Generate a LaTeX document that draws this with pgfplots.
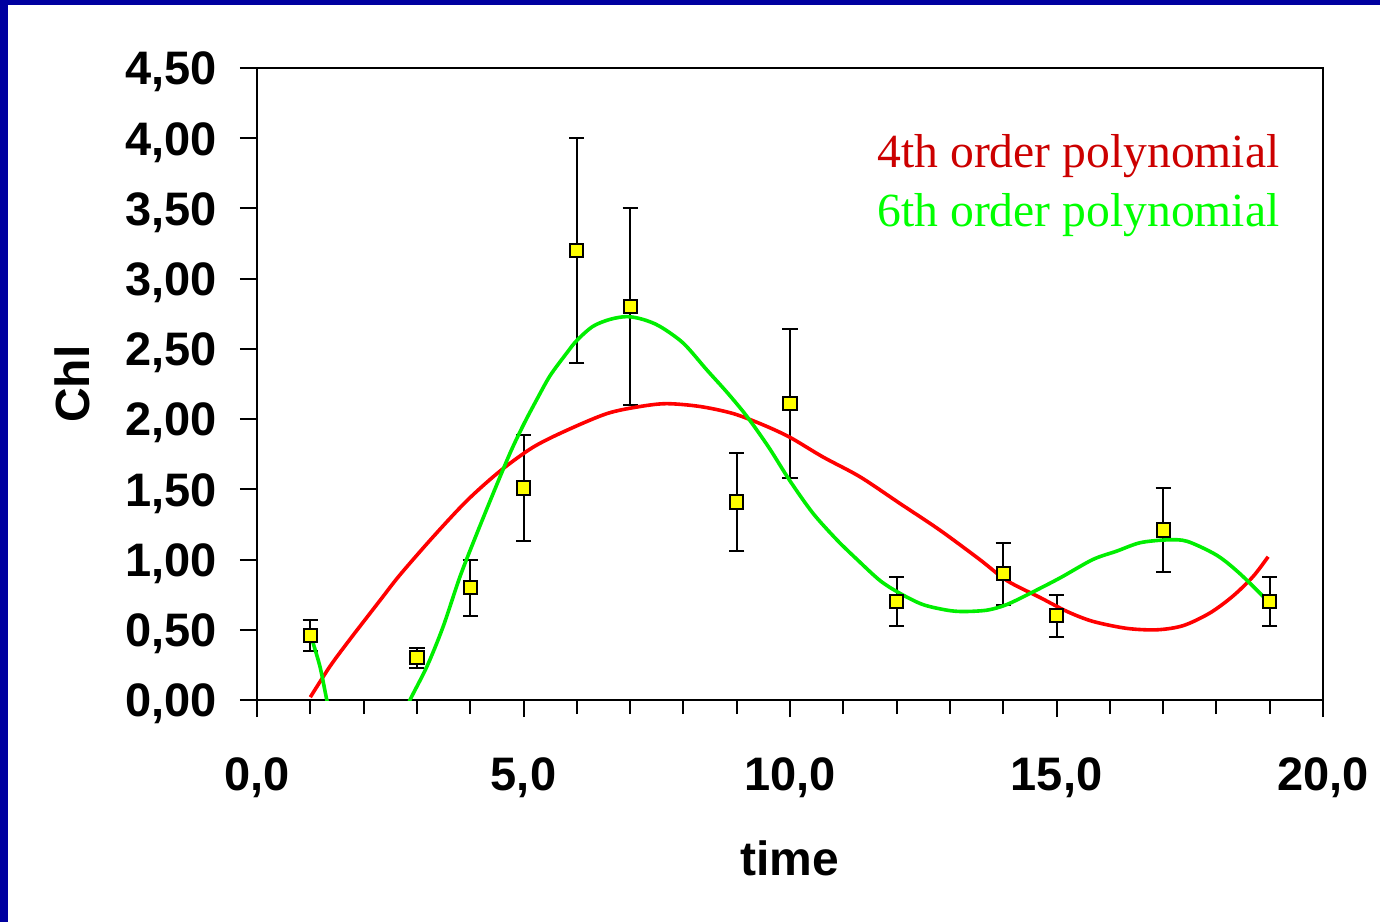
\documentclass[border=0pt]{standalone}
\usepackage{fontspec}
\setmainfont{Liberation Serif}
\newfontfamily\arial{Liberation Sans}
\usepackage{pgfplots}
\pgfplotsset{compat=1.18}
\usepackage{pgfplotstable}

\definecolor{frameblue}{RGB}{0,0,160}
\definecolor{fitred}{RGB}{255,0,0}
\definecolor{fitgreen}{RGB}{0,238,0}
\definecolor{txtred}{RGB}{204,0,0}
\definecolor{txtgreen}{RGB}{0,255,0}
\definecolor{markyellow}{RGB}{255,255,0}

% measured chlorophyll: time, mean, error
\pgfplotstableread{
t    chl   err
1    0.46  0.11
3    0.30  0.07
4    0.80  0.20
5    1.51  0.375
6    3.20  0.80
7    2.80  0.70
9    1.41  0.35
10   2.11  0.53
12   0.70  0.175
14   0.90  0.22
15   0.60  0.15
17   1.21  0.30
19   0.70  0.175
}\chldata

% 4th order polynomial trend line
\pgfplotstableread{
t     y
1.00  0.02
1.37  0.24
1.74  0.43
2.31  0.71
2.68  0.89
3.30  1.16
3.94  1.42
4.56  1.63
5.18  1.80
5.81  1.92
6.57  2.04
7.19  2.09
7.69  2.11
8.31  2.09
8.93  2.04
9.49  1.96
10.00 1.87
10.62 1.73
11.31 1.59
12.06 1.40
12.81 1.21
13.56 1.00
14.07 0.85
14.69 0.73
15.20 0.63
15.68 0.56
16.32 0.51
16.89 0.50
17.38 0.53
17.88 0.62
18.31 0.74
18.69 0.88
18.97 1.02
}\polyfour

% 6th order polynomial trend line (first part, above zero)
\pgfplotstableread{
t     y
1.00  0.47
1.18  0.24
1.31  0.00
1.36  -0.06
}\polysixa

% 6th order polynomial trend line (main part)
\pgfplotstableread{
t     y
2.82  -0.06
2.87  0.00
3.19  0.24
3.49  0.52
3.81  0.88
4.13  1.19
4.43  1.47
4.75  1.76
5.00  1.96
5.25  2.14
5.50  2.31
5.81  2.47
6.00  2.56
6.30  2.66
6.62  2.71
6.94  2.73
7.24  2.71
7.56  2.66
8.00  2.54
8.44  2.35
8.82  2.19
9.19  2.02
9.60  1.80
10.00 1.56
10.43 1.33
10.88 1.14
11.26 1.00
11.69 0.85
12.06 0.76
12.49 0.68
12.94 0.64
13.25 0.63
13.70 0.64
14.07 0.68
14.56 0.77
15.07 0.87
15.68 1.00
16.13 1.06
16.57 1.12
17.07 1.14
17.45 1.13
18.01 1.03
18.44 0.90
18.95 0.71
}\polysixb

\begin{document}
\begin{tikzpicture}
\useasboundingbox (-128.5pt,-111pt) rectangle (561.5pt,350pt);
\fill[white] (-128.5pt,-111pt) rectangle (561.5pt,350pt);
\fill[frameblue] (-128.5pt,-111pt) rectangle (-124.3pt,350pt);
\fill[frameblue] (-128.5pt,347.6pt) rectangle (561.5pt,350pt);
\begin{axis}[
  at={(0,0)}, anchor=south west,
  scale only axis,
  width=533pt, height=316pt,
  xmin=0, xmax=20, ymin=0, ymax=4.5,
  xtick={0,5,10,15,20},
  minor x tick num=4,
  ytick={0,0.5,...,4.5},
  xtick pos=lower, ytick pos=left,
  tick align=outside,
  major tick length=8.5pt,
  minor tick length=7pt,
  every tick/.style={black, line width=1pt},
  axis line style={black, line width=1.1pt},
  ticklabel style={font=\fontsize{23.5}{23.5}\selectfont\arial\bfseries},
  /pgf/number format/assume math mode=true,
  yticklabel style={anchor=base east, xshift=-8pt, yshift=-8.4pt,
    /pgf/number format/.cd, fixed, fixed zerofill, precision=2, use comma},
  xticklabel style={anchor=base, yshift=-36.5pt,
    /pgf/number format/.cd, fixed, fixed zerofill, precision=1, use comma},
  xlabel={time}, ylabel={Chl},
  every axis x label/.style={at={(axis description cs:0.5,-0.25)}, anchor=center,
    font=\fontsize{24}{24}\selectfont\arial\bfseries},
  every axis y label/.style={at={(axis description cs:-0.1735,0.5)}, rotate=90, anchor=center,
    font=\fontsize{24}{24}\selectfont\arial\bfseries},
]
\addplot[only marks, mark=square*, mark size=3.3pt,
  mark options={fill=markyellow, draw=black, line width=1pt},
  error bars/.cd, y dir=both, y explicit,
  error bar style={black, line width=1pt},
  error mark options={rotate=90, black, line width=1pt, mark size=3.8pt}]
  table[x=t, y=chl, y error=err] {\chldata};
\addplot[fitred, line width=1.8pt, smooth, no marks] table[x=t, y=y] {\polyfour};
\addplot[fitgreen, line width=1.8pt, smooth, no marks] table[x=t, y=y] {\polysixa};
\addplot[fitgreen, line width=1.8pt, smooth, no marks] table[x=t, y=y] {\polysixb};
\node[anchor=base east, text=txtred, font=\fontsize{23.8}{23.8}\selectfont, inner sep=0pt]
  at (axis cs:19.19,3.79) {4th order polynomial};
\node[anchor=base east, text=txtgreen, font=\fontsize{23.8}{23.8}\selectfont, inner sep=0pt]
  at (axis cs:19.19,3.37) {6th order polynomial};
\end{axis}
\end{tikzpicture}
\end{document}
